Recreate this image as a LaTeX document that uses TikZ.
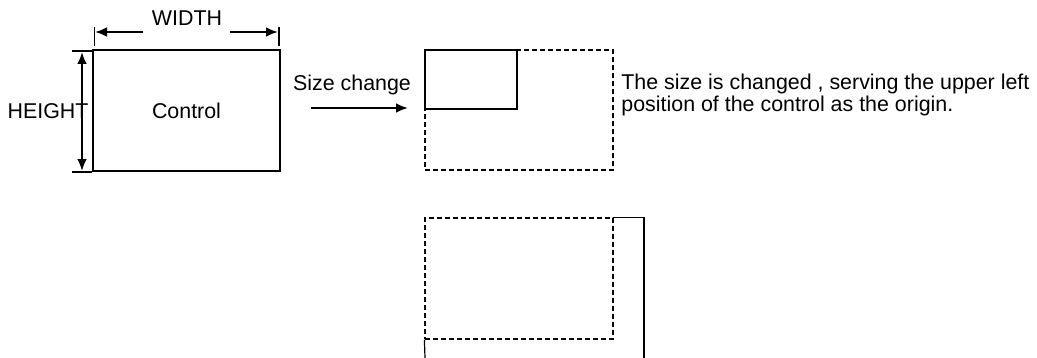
\documentclass[tikz,border=0pt]{standalone}
\usepackage{fontspec}
\setmainfont{Liberation Sans}
\usetikzlibrary{arrows}
\usetikzlibrary{arrows.meta}

\begin{document}
\begin{tikzpicture}[x=0.5pt,y=-0.5pt]
\tikzstyle{every node}=[inner sep=0pt,font=\fontsize{10.7}{7.5}\selectfont]
\tikzstyle{frame}=[draw,line width=0.6pt,minimum width=94pt,minimum height=60pt]
\tikzstyle{dframe}=[frame,dash pattern=on 2.5pt off 1.5pt]
\tikzstyle{dimline}=[line width=1.4pt]
\tikzstyle{tip}=[arrows={-Latex[length=6pt,width=5pt]}]
\useasboundingbox (0,0) rectangle (1037,358);

% original control
\node[frame,minimum width=93.5pt,minimum height=60.5pt] (ctrl) at (186.5,110.5) {Control};
\node (wlab) at (187,18) {WIDTH};
\node (hlab) at (48,111) {HEIGHT};
\coordinate (wt1) at (94.5,27); \coordinate (wt2) at (279,27);
\coordinate (w1) at (95,32); \coordinate (w2) at (278,32);
\coordinate (w1s) at (143,32); \coordinate (w2s) at (230,32);
\draw[line width=0.6pt] (wt1) -- ++(0,19) (wt2) -- ++(0,19);
\draw[dimline,tip] (w1s) -- (w1);
\draw[dimline,tip] (w2s) -- (w2);
\coordinate (ht1) at (72,51); \coordinate (ht2) at (72,172);
\draw[line width=0.6pt] (ht1) -- ++(20,0) (ht2) -- ++(20,0);
\coordinate (h1) at (82,52); \coordinate (h2) at (82,171);
\draw[dimline,arrows={Latex[length=6pt,width=5pt]-Latex[length=6pt,width=5pt]}] (h1) -- (h2);

% size change
\node (sclab) at (352,85) {Size change};
\coordinate (sc1) at (311,108); \coordinate (sc2) at (408,108);
\draw[dimline,tip] (sc1) -- (sc2);

% shrunk
\node[dframe] (area) at (519,110) {};
\node[frame,anchor=north west,minimum width=46pt,minimum height=29.5pt] (small) at (area.north west) {};
\node[anchor=north west,align=left] (note) at (621,74) {The size is changed , serving the upper left\\position of the control as the origin.};

% grown
\node[dframe,minimum height=60.5pt] (old) at (519,278.5) {};
\coordinate (gr) at (644,358); \coordinate (gl) at (425,358);
\draw[line width=0.6pt] (old.north east) -| (gr);
\draw[line width=0.6pt] (old.south west) -- (gl);
\end{tikzpicture}
\end{document}
